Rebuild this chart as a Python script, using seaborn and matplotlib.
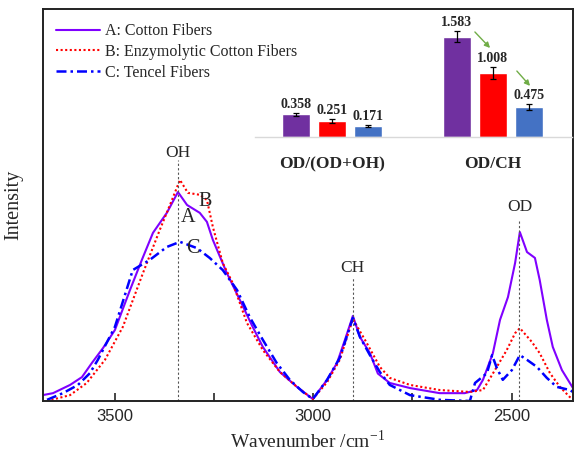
import numpy as np
import pandas as pd
import seaborn as sns
import matplotlib.pyplot as plt

# Spectra (wavenumber in cm-1, intensity in arbitrary units)
wn_a = [3682, 3656, 3613, 3583, 3558, 3530, 3500, 3462, 3432, 3404, 3369, 3341, 3318, 3286, 3268, 3253,
        3218, 3185, 3155, 3127, 3084, 3041, 3001, 2965, 2940, 2920, 2900, 2882, 2857, 2837, 2807,
        2756, 2681, 2618, 2587, 2572, 2547, 2529, 2509, 2491, 2479, 2461, 2441, 2429, 2411, 2396,
        2373, 2353, 2345]
int_a = [1.5, 2.0, 4.1, 6.1, 9.7, 13.5, 18.1, 28.3, 36.0, 42.9, 48.0, 53.3, 50.0, 48.0, 45.7, 41.1,
         32.7, 25.8, 19.4, 13.8, 7.4, 3.6, 0.5, 5.4, 9.7, 15.6, 21.7, 16.3, 12.2, 7.0, 4.6,
         3.3, 2.0, 2.0, 2.8, 5.4, 12.2, 20.7, 26.5, 35.2, 43.1, 38.0, 36.5, 30.9, 20.7, 13.8,
         7.9, 4.6, 3.3]

wn_b = [3671, 3613, 3571, 3525, 3480, 3429, 3387, 3356, 3336, 3316, 3286, 3268, 3253, 3228, 3203,
        3167, 3127, 3084, 3041, 3001, 2965, 2933, 2900, 2865, 2832, 2807, 2756, 2681, 2605, 2572,
        2537, 2512, 2491, 2479, 2449, 2429, 2403, 2378, 2353, 2345]
int_b = [0.0, 1.5, 4.6, 10.5, 18.9, 32.7, 43.6, 51.3, 56.4, 53.1, 52.6, 51.3, 44.4, 35.2, 30.1,
         19.9, 13.0, 7.4, 3.6, 0.5, 4.8, 10.5, 20.9, 14.8, 8.7, 5.9, 4.1, 2.8, 2.3, 2.8,
         8.7, 13.0, 17.3, 18.6, 15.1, 12.2, 7.1, 3.6, 1.0, 0.5]

wn_c = [3671, 3631, 3593, 3563, 3543, 3500, 3455, 3412, 3369, 3336, 3293, 3261, 3228, 3192, 3160,
        3127, 3092, 3059, 3026, 3001, 2965, 2933, 2900, 2882, 2857, 2832, 2807, 2756, 2681, 2605,
        2592, 2562, 2549, 2537, 2522, 2499, 2479, 2461, 2436, 2411, 2386, 2353, 2345]
int_c = [0.3, 2.0, 4.1, 7.1, 10.5, 18.9, 33.4, 36.0, 39.3, 40.6, 39.0, 36.5, 33.4, 28.3, 21.4,
         15.6, 9.7, 5.4, 2.3, 0.5, 5.4, 11.0, 21.2, 16.3, 11.7, 7.4, 4.1, 1.5, 0.3, 0.0,
         4.6, 7.1, 11.7, 8.4, 5.4, 7.9, 11.7, 10.5, 8.7, 5.9, 3.6, 2.8, 2.3]

series_names = ["A: Cotton Fibers", "B: Enzymolytic Cotton Fibers", "C: Tencel Fibers"]

# peak markers
peak_names = ["OH", "CH", "OD"]
peak_wn = [3340, 2900, 2480]
peak_top = [61.5, 31.4, 46.2]
peak_label_y = [63.3, 33.9, 49.5]

# inset bar data
ratio_groups = ["OD/(OD+OH)", "OD/CH"]
ratio_a = [0.358, 1.583]
ratio_b = [0.251, 1.008]
ratio_c = [0.171, 0.475]
err_a = [0.025, 0.085]
err_b = [0.026, 0.09]
err_c = [0.018, 0.05]

sns.set_style("ticks")
plt.rcParams['font.family'] = ['Liberation Serif', 'DejaVu Serif']
plt.rcParams['mathtext.fontset'] = 'custom'
plt.rcParams['mathtext.rm'] = 'Liberation Serif'

fig = plt.figure(figsize=(5.77, 4.51), dpi=100)
ax = fig.add_axes([42.7 / 577, 50 / 451, 530.3 / 577, 392 / 451])

line_colors = ["#8000FF", "#FF0000", "#0000FF"]
sns.lineplot(x=wn_a, y=int_a, ax=ax, color=line_colors[0], lw=1.5, linestyle="-",
             label=series_names[0], estimator=None, sort=False)
sns.lineplot(x=wn_b, y=int_b, ax=ax, color=line_colors[1], lw=1.5, linestyle=(0, (1, 1.2)),
             label=series_names[1], estimator=None, sort=False)
sns.lineplot(x=wn_c, y=int_c, ax=ax, color=line_colors[2], lw=1.8, linestyle=(0, (4, 1.6, 1, 1.6)),
             label=series_names[2], estimator=None, sort=False)

ax.vlines(peak_wn, 0, peak_top, colors="#555555", linestyles=(0, (2, 2)), lw=0.8)
for name, w, y in zip(peak_names, peak_wn, peak_label_y):
    ax.text(w, y, name, ha="center", va="center", fontsize=12.5)

ax.text(3316, 46.9, "A", ha="center", va="center", fontsize=14.5)
ax.text(3273, 50.8, "B", ha="center", va="center", fontsize=14.5)
ax.text(3303, 39.0, "C", ha="center", va="center", fontsize=14.5)

ax.set_xlim(3682, 2345)
ax.set_ylim(0, 100)
ax.set_yticks([])
ax.set_xticks([3500, 3000, 2500])
ax.set_xticks([3250, 2750], minor=True)
ax.tick_params(axis="x", which="both", direction="in", length=6, width=1.2, pad=6)
ax.set_xticklabels(["3500", "3000", "2500"], family="Liberation Sans", fontsize=12)
for s in ax.spines.values():
    s.set_linewidth(1.4)
    s.set_color("#222222")
ax.set_xlabel("Wavenumber /cm$^{-1}$", fontsize=14, labelpad=4)
ax.set_ylabel("Intensity", fontsize=14.5, labelpad=14)

ax.legend(loc="upper left", bbox_to_anchor=(0.026, 0.964), frameon=False, fontsize=11.5,
          handlelength=2.7, handletextpad=0.35, labelspacing=0.3, borderpad=0, borderaxespad=0)

# inset bar chart
ins = fig.add_axes([255 / 577, (451 - 137) / 451, 317 / 577, 117 / 451])
ins.patch.set_alpha(0)
bars = pd.DataFrame({
    "group": ratio_groups * 3,
    "fiber": ["A"] * 2 + ["B"] * 2 + ["C"] * 2,
    "value": ratio_a + ratio_b + ratio_c,
})
errs = err_a + err_b + err_c
bar_colors = ["#7030A0", "#FF0000", "#4472C4"]
sns.barplot(data=bars, x="group", y="value", hue="fiber", palette=bar_colors, ax=ins,
            width=0.67, gap=0.22, legend=False, errorbar=None, saturation=1)
bar_conts = list(ins.containers)
k = 0
for cont in bar_conts:
    for p in cont:
        cx = p.get_x() + p.get_width() / 2
        h = p.get_height()
        e = errs[k]
        ins.errorbar(cx, h, yerr=e, color="black", capsize=2, lw=0.9, capthick=0.9)
        ins.annotate(f"{h:.3f}", (cx, h + e), xytext=(0, 1.5), textcoords="offset points",
                     ha="center", va="bottom", fontsize=10, fontweight="bold")
        k += 1
ins.set_xlim(-0.478, 1.491)
ins.set_ylim(0, 1.845)
ins.set_yticks([])
ins.set_xlabel("")
ins.set_ylabel("")
ins.tick_params(axis="x", length=0, pad=14)
for lab in ins.get_xticklabels():
    lab.set_fontweight("bold")
    lab.set_fontsize(12.5)
for side in ["top", "left", "right"]:
    ins.spines[side].set_visible(False)
ins.spines["bottom"].set_color("#D9D9D9")
ins.spines["bottom"].set_linewidth(1)

arrow_kw = dict(arrowstyle="-|>", color="#70AD47", lw=1, mutation_scale=8)
ins.annotate("", xy=(0.994, 1.372), xytext=(0.876, 1.688), arrowprops=arrow_kw)
ins.annotate("", xy=(1.242, 0.773), xytext=(1.137, 1.073), arrowprops=arrow_kw)

fig.savefig("out.png", dpi=100)
